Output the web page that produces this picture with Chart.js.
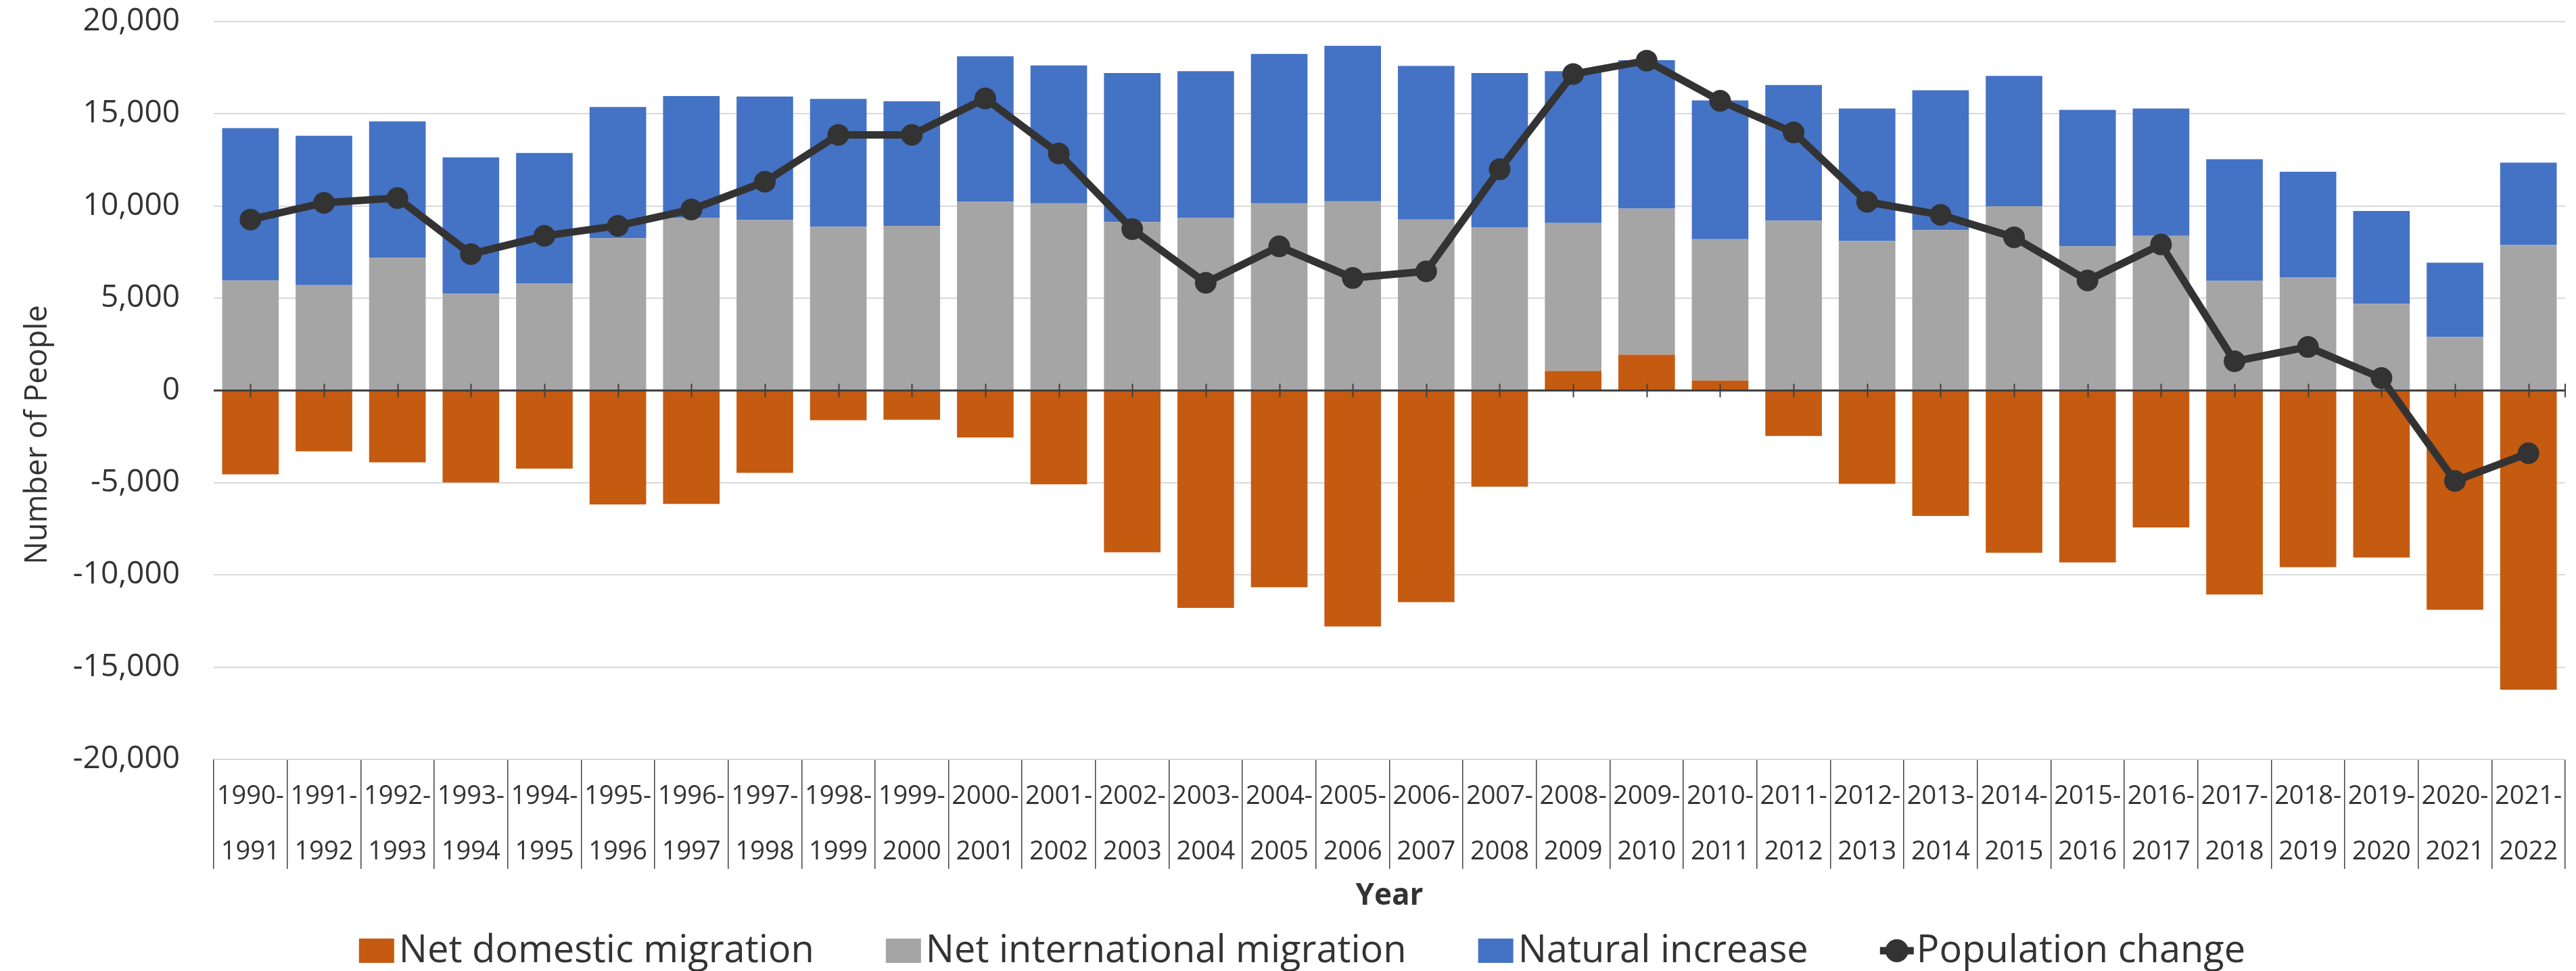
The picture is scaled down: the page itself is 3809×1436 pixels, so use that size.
<!DOCTYPE html>
<html>
<head>
<meta charset="utf-8">
<title>Components of Population Change</title>
<script src="https://cdn.jsdelivr.net/npm/chart.js@4.4.1/dist/chart.umd.min.js"></script>
<style>
  html, body { margin: 0; padding: 0; background: #ffffff; }
  #wrap { width: 3809px; height: 1436px; }
</style>
</head>
<body>
<div id="wrap"><canvas id="chart" width="3809" height="1436"></canvas></div>
<script>
// ---- Data ----
const periodLabels = [
  ['1990-','1991'], ['1991-','1992'], ['1992-','1993'], ['1993-','1994'],
  ['1994-','1995'], ['1995-','1996'], ['1996-','1997'], ['1997-','1998'],
  ['1998-','1999'], ['1999-','2000'], ['2000-','2001'], ['2001-','2002'],
  ['2002-','2003'], ['2003-','2004'], ['2004-','2005'], ['2005-','2006'],
  ['2006-','2007'], ['2007-','2008'], ['2008-','2009'], ['2009-','2010'],
  ['2010-','2011'], ['2011-','2012'], ['2012-','2013'], ['2013-','2014'],
  ['2014-','2015'], ['2015-','2016'], ['2016-','2017'], ['2017-','2018'],
  ['2018-','2019'], ['2019-','2020'], ['2020-','2021'], ['2021-','2022']
];

const netDomesticMigration = [
  -4543, -3297, -3894, -4984, -4231, -6178, -6152, -4465,
  -1610, -1584, -2544, -5088, -8774, -11786, -10670, -12798,
  -11474, -5218, 1064, 1947, 545, -2466, -5062, -6802,
  -8800, -9320, -7425, -11059, -9579, -9060, -11890, -16225
];

const netInternationalMigration = [
  5971, 5711, 7191, 5244, 5789, 8255, 9346, 9242,
  8878, 8930, 10228, 10150, 9138, 9346, 10150, 10254,
  9268, 8852, 8022, 7918, 7658, 9216, 8100, 8697,
  9995, 7814, 8385, 5945, 6127, 4699, 2908, 7892
];

const naturalIncrease = [
  8255, 8100, 7399, 7399, 7087, 7113, 6619, 6697,
  6932, 6750, 7892, 7477, 8073, 7969, 8100, 8437,
  8333, 8359, 8229, 8047, 7529, 7346, 7190, 7580,
  7061, 7399, 6905, 6594, 5737, 5036, 4023, 4465
];

const populationChange = [
  9268, 10176, 10436, 7399, 8385, 8930, 9813, 11318,
  13863, 13863, 15836, 12850, 8749, 5841, 7814, 6101,
  6464, 11994, 17160, 17886, 15706, 13992, 10228, 9527,
  8307, 5971, 7918, 1584, 2362, 675, -4906, -3401
];

const yAxisTicks = [-20000, -15000, -10000, -5000, 0, 5000, 10000, 15000, 20000];

const seriesNames = ['Net domestic migration', 'Net international migration', 'Natural increase', 'Population change'];
const yAxisTitle = 'Number of People';
const xAxisTitle = 'Year';

// ---- Styling ----
const COLORS = {
  domestic: '#C55A11',
  international: '#A5A5A5',
  natural: '#4472C4',
  line: '#333333',
  text: '#333333',
  grid: '#d9d9d9',
  axis: '#404040'
};
const FONT = '"Open Sans", "Noto Sans", sans-serif';
Chart.defaults.font.family = FONT;
Chart.defaults.color = COLORS.text;

// Decorations: zero axis line with ticks, rotated y title, legend
const decorPlugin = {
  id: 'decor',
  beforeDatasetDraw(chart, args) {
    if (args.meta.type !== 'line') return;
    const { ctx, chartArea, scales: { x, y } } = chart;
    const y0 = y.getPixelForValue(0);
    ctx.save();
    ctx.strokeStyle = COLORS.axis;
    ctx.lineWidth = 3;
    ctx.beginPath();
    ctx.moveTo(chartArea.left, y0);
    ctx.lineTo(chartArea.right, y0);
    ctx.stroke();
    ctx.lineWidth = 2;
    ctx.beginPath();
    for (let i = 0; i < x.ticks.length; i++) {
      const px = Math.round(x.getPixelForTick(i)) + 0.5;
      ctx.moveTo(px, y0 - 10);
      ctx.lineTo(px, y0 + 10);
    }
    ctx.moveTo(chartArea.right, y0 - 10);
    ctx.lineTo(chartArea.right, y0 + 10);
    ctx.stroke();
    ctx.restore();
  },
  afterDraw(chart) {
    const { ctx } = chart;
    ctx.save();
    // Y axis title
    ctx.fillStyle = COLORS.text;
    ctx.font = '45px ' + FONT;
    ctx.textAlign = 'center';
    ctx.textBaseline = 'middle';
    ctx.translate(56, 643);
    ctx.rotate(-Math.PI / 2);
    ctx.fillText(yAxisTitle, 0, 0);
    ctx.restore();

    // Legend
    ctx.save();
    ctx.font = '56px ' + FONT;
    ctx.textBaseline = 'middle';
    ctx.textAlign = 'left';
    const ds = chart.data.datasets;
    const items = ds.map(d => ({
      text: d.label,
      kind: d.type === 'line' ? 'line' : 'box',
      color: d.type === 'line' ? d.borderColor : d.backgroundColor,
    }));
    const boxW = 52, boxH = 36, boxGap = 7, lineW = 50, lineGap = 4, spacing = 106;
    let total = 0;
    items.forEach((it, i) => {
      it.tw = ctx.measureText(it.text).width;
      it.w = (it.kind === 'box' ? boxW + boxGap : lineW + lineGap) + it.tw;
      total += it.w + (i > 0 ? spacing : 0);
    });
    let cx = chart.width / 2 + 21 - total / 2;
    const cy = 1406;
    items.forEach((it) => {
      if (it.kind === 'box') {
        ctx.fillStyle = it.color;
        ctx.fillRect(cx, cy - boxH / 2, boxW, boxH);
        ctx.fillStyle = COLORS.text;
        ctx.fillText(it.text, cx + boxW + boxGap, cy + 1);
      } else {
        ctx.strokeStyle = it.color;
        ctx.lineWidth = 11;
        ctx.beginPath();
        ctx.moveTo(cx, cy);
        ctx.lineTo(cx + lineW, cy);
        ctx.stroke();
        ctx.fillStyle = it.color;
        ctx.beginPath();
        ctx.arc(cx + lineW / 2, cy, 17, 0, Math.PI * 2);
        ctx.fill();
        ctx.fillStyle = COLORS.text;
        ctx.fillText(it.text, cx + lineW + lineGap, cy + 1);
      }
      cx += it.w + spacing;
    });
    ctx.restore();
  }
};

new Chart(document.getElementById('chart'), {
  type: 'bar',
  data: {
    labels: periodLabels,
    datasets: [
      {
        label: seriesNames[0],
        data: netDomesticMigration,
        backgroundColor: COLORS.domestic,
        borderWidth: 0,
        stack: 'components'
      },
      {
        label: seriesNames[1],
        data: netInternationalMigration,
        backgroundColor: COLORS.international,
        borderWidth: 0,
        stack: 'components'
      },
      {
        label: seriesNames[2],
        data: naturalIncrease,
        backgroundColor: COLORS.natural,
        borderWidth: 0,
        stack: 'components'
      },
      {
        type: 'line',
        label: seriesNames[3],
        data: populationChange,
        borderColor: COLORS.line,
        backgroundColor: COLORS.line,
        borderWidth: 11,
        pointRadius: 16,
        pointHoverRadius: 16,
        pointBackgroundColor: COLORS.line,
        pointBorderWidth: 0,
        tension: 0,
        fill: false,
        stack: 'total',
        order: -1
      }
    ]
  },
  options: {
    responsive: false,
    animation: false,
    devicePixelRatio: 1,
    datasets: {
      bar: { barPercentage: 0.77, categoryPercentage: 1.0 }
    },
    layout: { padding: { top: 32, left: 0, right: 7, bottom: 80 } },
    plugins: {
      legend: { display: false },
      tooltip: { enabled: false },
      title: { display: false }
    },
    scales: {
      x: {
        stacked: true,
        offset: true,
        afterFit(scale) { scale.height = 233; },
        border: { display: false },
        grid: {
          offset: true,
          drawOnChartArea: false,
          drawTicks: true,
          tickLength: 162,
          color: COLORS.axis,
          lineWidth: 1.5
        },
        ticks: {
          autoSkip: false,
          maxRotation: 0,
          minRotation: 0,
          padding: -148,
          color: COLORS.text,
          font: { size: 38, lineHeight: 82 / 38 }
        },
        title: {
          display: true,
          text: xAxisTitle,
          color: COLORS.text,
          font: { size: 44, weight: 'bold' },
          padding: { top: 0, bottom: 4 }
        }
      },
      y: {
        stacked: true,
        min: yAxisTicks[0],
        max: yAxisTicks[yAxisTicks.length - 1],
        afterFit(scale) { scale.width = 316; },
        afterBuildTicks(scale) { scale.ticks = yAxisTicks.map(v => ({ value: v })); },
        border: { display: false },
        grid: {
          drawTicks: true,
          tickLength: 50,
          tickColor: 'rgba(0,0,0,0)',
          color: (c) => (c.tick && c.tick.value === 0) ? COLORS.axis : COLORS.grid,
          lineWidth: 2
        },
        ticks: {
          padding: 0,
          color: COLORS.text,
          font: { size: 46 },
          callback: (v) => Number(v).toLocaleString('en-US')
        },
        title: { display: false }
      }
    }
  },
  plugins: [decorPlugin]
});
</script>
</body>
</html>
